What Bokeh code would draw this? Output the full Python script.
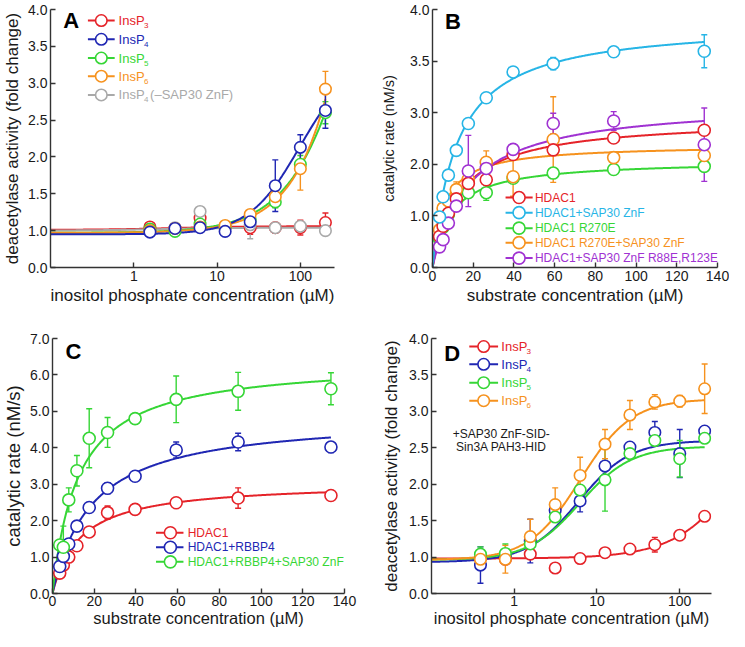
import numpy as np
from bokeh.plotting import figure
from bokeh.layouts import row, column
from bokeh.models import FixedTicker, PrintfTickFormatter, Range1d
from bokeh.core.properties import value
from bokeh.embed import file_html
from bokeh.resources import INLINE

FONT = "Liberation Sans"
INK = "#1a1a1a"
AXIS = "#333333"
RED = "#e52329"
BLUE = "#2027b3"
GREEN = "#36d636"
ORANGE = "#f6921e"
GRAY = "#a9a9a9"
CYAN = "#27b5e6"
PURPLE = "#a032d2"

# ---------------- Panel A : deacetylase activity vs InsP concentration
conc_A = [1.5625, 3.125, 6.25, 12.5, 25, 50, 100, 200]
A_insp3 = [1.05, 1.03, 1.17, 1.05, 1.04, 1.04, 1.04, 1.11]
A_insp3_err = [0.03, 0.03, 0.04, 0.03, 0.09, 0.07, 0.10, 0.13]
A_insp4 = [0.98, 1.03, 1.04, 0.99, 1.12, 1.61, 2.13, 2.63]
A_insp4_err = [0.03, 0.03, 0.03, 0.04, 0.08, 0.35, 0.17, 0.24]
A_insp5 = [1.02, 0.99, 1.09, 1.05, 1.15, 1.39, 1.90, 2.60]
A_insp5_err = [0.03, 0.05, 0.04, 0.03, 0.06, 0.08, 0.12, 0.15]
A_insp6 = [1.00, 1.03, 1.05, 1.07, 1.22, 1.46, 1.84, 2.92]
A_insp6_err = [0.02, 0.02, 0.02, 0.03, 0.06, 0.12, 0.29, 0.24]
A_insp4_noznf = [1.00, 1.04, 1.26, 1.06, 1.08, 1.04, 1.06, 1.00]
A_insp4_noznf_err = [0.02, 0.02, 0.02, 0.03, 0.19, 0.05, 0.05, 0.02]
# Hill fit parameters: base, amplitude, EC50, n
A_fit_insp3 = [1.01, 0.05, 3.0, 1.0]
A_fit_insp4 = [0.95, 2.4, 100.0, 1.4]
A_fit_insp5 = [0.97, 8.6, 850.0, 1.0]
A_fit_insp6 = [0.97, 33.0, 3000.0, 1.05]
A_fit_noznf = [1.00, 0.04, 2.0, 1.0]

# ---------------- Panel B : catalytic rate vs substrate
conc_B = [3.47, 5.2, 7.8, 11.7, 17.6, 26.4, 39.6, 59.3, 89.0, 133.5]
B_hdac1 = [0.60, 0.80, 1.05, 1.33, 1.63, 1.70, 2.19, 2.28, 2.51, 2.66]
B_hdac1_err = [0.05, 0.05, 0.05, 0.06, 0.08, 0.25, 0.10, 0.10, 0.05, 0.10]
B_znf = [0.98, 1.37, 1.79, 2.27, 2.79, 3.29, 3.79, 3.95, 4.18, 4.19]
B_znf_err = [0.05, 0.05, 0.05, 0.05, 0.08, 0.08, 0.10, 0.12, 0.08, 0.32]
B_r270e = [0.55, 0.78, 1.03, 1.30, 1.45, 1.45, 1.73, 1.83, 1.90, 1.96]
B_r270e_err = [0.05, 0.05, 0.05, 0.05, 0.06, 0.15, 0.05, 0.05, 0.05, 0.06]
B_r270e_znf = [0.73, 1.15, 1.29, 1.51, 1.71, 2.04, 1.76, 2.48, 2.13, 2.17]
B_r270e_znf_err = [0.05, 0.05, 0.05, 0.15, 0.10, 0.22, 0.38, 0.83, 0.10, 0.12]
B_znf_mut = [0.40, 0.54, 0.86, 1.19, 1.87, 1.92, 2.29, 2.79, 2.84, 2.38]
B_znf_mut_err = [0.03, 0.03, 0.05, 0.05, 0.69, 0.10, 0.06, 0.20, 0.18, 0.71]
# Michaelis-Menten fit parameters: Vmax, Km
B_fit_hdac1 = [2.89, 13.4]
B_fit_znf = [4.76, 11.9]
B_fit_r270e = [2.08, 9.05]
B_fit_r270e_znf = [2.38, 5.8]
B_fit_znf_mut = [3.22, 17.9]
B_ytick_labels = ["0.0", "1.0", "2.0", "3.0", "3.5", "4.0"]

# ---------------- Panel C
conc_C = [3.47, 5.2, 7.8, 11.7, 17.6, 26.4, 39.6, 59.3, 89.0, 133.5]
C_hdac1 = [0.56, 0.78, 1.00, 1.31, 1.69, 2.22, 2.31, 2.49, 2.62, 2.69]
C_hdac1_err = [0.03, 0.03, 0.03, 0.05, 0.05, 0.18, 0.05, 0.05, 0.28, 0.05]
C_rbbp4 = [0.74, 1.02, 1.36, 1.85, 2.36, 2.89, 3.22, 3.94, 4.16, 4.02]
C_rbbp4_err = [0.03, 0.03, 0.05, 0.05, 0.05, 0.15, 0.05, 0.22, 0.24, 0.15]
C_rbbp4_znf = [1.33, 1.27, 2.57, 3.37, 4.26, 4.42, 4.80, 5.33, 5.55, 5.62]
C_rbbp4_znf_err = [0.05, 0.58, 0.33, 0.42, 0.81, 0.41, 0.05, 0.64, 0.52, 0.44]
C_fit_hdac1 = [3.06, 13.36]
C_fit_rbbp4 = [4.89, 18.9]
C_fit_rbbp4_znf = [6.39, 12.4]

# ---------------- Panel D
conc_D = [0.390625, 0.78125, 1.5625, 3.125, 6.25, 12.5, 25, 50, 100, 200]
D_insp3 = [0.98, 0.97, 1.04, 0.85, 0.98, 1.06, 1.11, 1.17, 1.30, 1.56]
D_insp3_err = [0.02, 0.02, 0.02, 0.02, 0.02, 0.02, 0.03, 0.10, 0.03, 0.03]
D_insp4 = [0.89, 1.00, 1.22, 1.64, 1.77, 2.25, 2.51, 2.71, 2.42, 2.73]
D_insp4_err = [0.25, 0.10, 0.30, 0.05, 0.15, 0.05, 0.05, 0.15, 0.33, 0.05]
D_insp5 = [1.04, 1.05, 1.18, 1.55, 1.92, 2.06, 2.42, 2.60, 2.35, 2.63]
D_insp5_err = [0.10, 0.13, 0.12, 0.05, 0.05, 0.43, 0.05, 0.07, 0.25, 0.05]
D_insp6 = [0.97, 0.97, 1.28, 1.72, 2.12, 2.55, 2.95, 3.13, 3.14, 3.31]
D_insp6_err = [0.05, 0.19, 0.24, 0.23, 0.25, 0.20, 0.20, 0.10, 0.08, 0.34]
D_fit_insp3 = [0.98, 3.48, 1000.0, 1.0]
D_fit_insp4 = [0.93, 1.67, 6.0, 1.4]
D_fit_insp5 = [0.96, 1.56, 6.2, 1.4]
D_fit_insp6 = [0.96, 2.21, 6.3, 1.4]

LOG_TICKS = [1, 10, 100]
LIN_XTICKS = [0, 20, 40, 60, 80, 100, 120, 140]
ACT_YTICKS = [0.5, 1.0, 1.5, 2.0, 2.5, 3.0, 3.5, 4.0]


def hill(x, base, amp, ec, n):
    x = np.asarray(x, dtype=float)
    return base + amp * x ** n / (ec ** n + x ** n)


def mm(s, vmax, km):
    s = np.asarray(s, dtype=float)
    return vmax * s / (km + s)


class Panel:
    """A figure plus helpers that place decorations by fraction of the plot frame.
    ref = (frame width, frame height) that the placement numbers refer to."""

    def __init__(self, width, height, borders, xr, yr, xlog, ref):
        L, R, T, B = borders
        self.xr, self.yr, self.xlog = xr, yr, xlog
        self.ref_w, self.ref_h = ref
        p = figure(width=width, height=height,
                   x_axis_type="log" if xlog else "linear",
                   x_range=Range1d(*xr), y_range=Range1d(*yr),
                   output_backend="svg", toolbar_location=None,
                   min_border_left=L, min_border_right=R,
                   min_border_top=T, min_border_bottom=B)
        p.outline_line_color = None
        p.xgrid.visible = False
        p.ygrid.visible = False
        p.background_fill_color = "white"
        p.border_fill_color = "white"
        for ax in (p.xaxis[0], p.yaxis[0]):
            ax.axis_line_color = AXIS
            ax.axis_line_width = 1.4
            ax.major_tick_line_color = AXIS
            ax.major_tick_line_width = 1.4
            ax.major_tick_in = 5
            ax.major_tick_out = 0
            ax.minor_tick_in = 0
            ax.minor_tick_out = 0
            ax.minor_tick_line_color = None
            ax.major_label_text_font = FONT
            ax.major_label_text_font_size = "14px"
            ax.major_label_text_color = INK
            ax.axis_label_text_font = FONT
            ax.axis_label_text_font_style = "normal"
            ax.axis_label_text_color = INK
            ax.axis_label_text_font_size = "17px"
            ax.major_label_standoff = 3
            ax.axis_label_standoff = 3
        self.p = p

    def at(self, px, py):
        fx = px / self.ref_w
        fy = py / self.ref_h
        x0, x1 = self.xr
        y0, y1 = self.yr
        if self.xlog:
            x = 10 ** (np.log10(x0) + (np.log10(x1) - np.log10(x0)) * fx)
        else:
            x = x0 + (x1 - x0) * fx
        y = y0 + (y1 - y0) * fy
        return float(x), float(y)

    def text(self, px, py, s, color=INK, size="13px", align="left",
             baseline="middle", style="normal", dx=0, dy=0):
        x, y = self.at(px, py)
        self.p.text(x=[x], y=[y], text=[s], text_font=value(FONT),
                    text_font_size=value(size), text_color=color,
                    text_align=align, text_baseline=baseline,
                    text_font_style=style, x_offset=dx, y_offset=dy)

    def legend_entry(self, px0, px1, pxc, pxt, py, color, msize, label,
                     size="13px", sub=None, tail=None, sub_dx=25.3, tail_dx=31.5):
        xa, y = self.at(px0, py)
        xb, _ = self.at(px1, py)
        xc, _ = self.at(pxc, py)
        self.p.line(x=[xa, xb], y=[y, y], line_color=color, line_width=2)
        self.p.scatter(x=[xc], y=[y], marker="circle", size=msize,
                       fill_color="white", line_color=color, line_width=1.6)
        self.text(pxt, py, label, color=color, size=size)
        if sub is not None:
            self.text(pxt, py, sub, color=color, size="8px", dx=sub_dx, dy=5)
        if tail is not None:
            self.text(pxt, py, tail, color=color, size=size, dx=tail_dx)


def draw_fit(p, xs, ys, color):
    p.line(x=list(xs), y=list(ys), line_color=color, line_width=2)


def draw_err(p, x, y, err, color):
    lo = [a - b for a, b in zip(y, err)]
    hi = [a + b for a, b in zip(y, err)]
    p.segment(x0=list(x), y0=lo, x1=list(x), y1=hi, line_color=color, line_width=1.4)
    p.scatter(x=list(x) + list(x), y=lo + hi, marker="dash", size=6,
              line_color=color, line_width=1.4)


def draw_pts(p, x, y, color, size):
    p.scatter(x=list(x), y=list(y), marker="circle", size=size,
              fill_color="white", line_color=color, line_width=1.6)


MS_LOG = 11.5   # marker size, panels A and D
MS_LIN = 12     # marker size, panels B and C

# ================= Panel A
PA = Panel(372, 310, (50, 38, 9, 42), (0.1, 257), (0.5, 4.0), True, (290.7, 265.7))
pA = PA.p
xsA = np.logspace(-1, np.log10(200), 300)
seriesA = [(A_insp3, A_insp3_err, A_fit_insp3, RED),
           (A_insp4_noznf, A_insp4_noznf_err, A_fit_noznf, GRAY),
           (A_insp5, A_insp5_err, A_fit_insp5, GREEN),
           (A_insp6, A_insp6_err, A_fit_insp6, ORANGE),
           (A_insp4, A_insp4_err, A_fit_insp4, BLUE)]
for ys, es, fit, c in seriesA:
    draw_fit(pA, xsA, hill(xsA, *fit), c)
for ys, es, fit, c in seriesA:
    draw_err(pA, conc_A, ys, es, c)
for ys, es, fit, c in seriesA:
    draw_pts(pA, conc_A, ys, c, MS_LOG)
pA.xaxis[0].ticker = FixedTicker(ticks=LOG_TICKS, minor_ticks=[])
pA.xaxis[0].formatter = PrintfTickFormatter(format="%d")
pA.yaxis[0].ticker = FixedTicker(ticks=ACT_YTICKS, minor_ticks=[])
pA.yaxis[0].formatter = PrintfTickFormatter(format="%.1f")
pA.yaxis[0].major_label_overrides = {0.5: "0.0"}
pA.xaxis[0].axis_label = "inositol phosphate concentration (µM)"
pA.yaxis[0].axis_label = "deacetylase activity (fold change)"
pA.xaxis[0].axis_label_standoff = 2
PA.text(13, 254, "A", size="22px", baseline="alphabetic", style="bold", color="#000000")
rowsA = [254.3, 235.0, 215.7, 197.0, 177.7]
for r, c, s in zip(rowsA[:4], [RED, BLUE, GREEN, ORANGE], ["3", "4", "5", "6"]):
    PA.legend_entry(38.3, 65.7, 52, 69.7, r, c, MS_LOG, "InsP", sub=s)
PA.legend_entry(38.3, 65.7, 52, 69.7, rowsA[4], GRAY, MS_LOG, "InsP", sub="4",
                tail="(–SAP30 ZnF)")

# ================= Panel B
PB = Panel(357, 310, (60, 12, 8, 43), (0, 140), (0, 5), False, (291.4, 266.7))
pB = PB.p
xsB = np.linspace(0, 133.5, 300)
seriesB = [(B_r270e, B_r270e_err, B_fit_r270e, GREEN),
           (B_r270e_znf, B_r270e_znf_err, B_fit_r270e_znf, ORANGE),
           (B_hdac1, B_hdac1_err, B_fit_hdac1, RED),
           (B_znf_mut, B_znf_mut_err, B_fit_znf_mut, PURPLE),
           (B_znf, B_znf_err, B_fit_znf, CYAN)]
for ys, es, fit, c in seriesB:
    draw_fit(pB, xsB, mm(xsB, *fit), c)
for ys, es, fit, c in seriesB:
    draw_err(pB, conc_B, ys, es, c)
for ys, es, fit, c in seriesB:
    draw_pts(pB, conc_B, ys, c, MS_LIN)
pB.xaxis[0].ticker = FixedTicker(ticks=LIN_XTICKS, minor_ticks=[])
pB.xaxis[0].formatter = PrintfTickFormatter(format="%d")
pB.yaxis[0].ticker = FixedTicker(ticks=[0, 1, 2, 3, 4, 5], minor_ticks=[])
pB.yaxis[0].formatter = PrintfTickFormatter(format="%.1f")
pB.yaxis[0].major_label_overrides = {i: s for i, s in enumerate(B_ytick_labels)}
pB.xaxis[0].axis_label = "substrate concentration (µM)"
pB.yaxis[0].axis_label = "catalytic rate (nM/s)"
pB.yaxis[0].axis_label_text_font_size = "14.5px"
pB.yaxis[0].axis_label_standoff = 10
pB.xaxis[0].axis_label_standoff = 2
PB.text(12.7, 254, "B", size="22px", baseline="alphabetic", style="bold", color="#000000")
rowsB = [72.3, 56.7, 40.7, 25.7, 9.7]
labelsB = ["HDAC1", "HDAC1+SAP30 ZnF", "HDAC1 R270E", "HDAC1 R270E+SAP30 ZnF",
           "HDAC1+SAP30 ZnF R88E,R123E"]
for r, c, lab in zip(rowsB, [RED, CYAN, GREEN, ORANGE, PURPLE], labelsB):
    PB.legend_entry(74.7, 102.4, 88.5, 104.7, r, c, MS_LIN, lab, size="12px")

# ================= Panel C
PC = Panel(372, 321, (49, 28, 28, 38), (0, 140), (0, 7), False, (301.0, 262.6))
pC = PC.p
xsC = np.linspace(0, 133.5, 300)
seriesC = [(C_hdac1, C_hdac1_err, C_fit_hdac1, RED),
           (C_rbbp4, C_rbbp4_err, C_fit_rbbp4, BLUE),
           (C_rbbp4_znf, C_rbbp4_znf_err, C_fit_rbbp4_znf, GREEN)]
for ys, es, fit, c in seriesC:
    draw_fit(pC, xsC, mm(xsC, *fit), c)
for ys, es, fit, c in seriesC:
    draw_err(pC, conc_C, ys, es, c)
for ys, es, fit, c in seriesC:
    draw_pts(pC, conc_C, ys, c, MS_LIN)
pC.xaxis[0].ticker = FixedTicker(ticks=LIN_XTICKS, minor_ticks=[])
pC.xaxis[0].formatter = PrintfTickFormatter(format="%d")
pC.yaxis[0].ticker = FixedTicker(ticks=[0, 1, 2, 3, 4, 5, 6, 7], minor_ticks=[])
pC.yaxis[0].formatter = PrintfTickFormatter(format="%.1f")
pC.xaxis[0].axis_label = "substrate concentration (µM)"
pC.yaxis[0].axis_label = "catalytic rate (nM/s)"
pC.yaxis[0].axis_label_text_font_size = "18.5px"
pC.yaxis[0].axis_label_standoff = 3
pC.xaxis[0].axis_label_text_font_size = "16.5px"
pC.xaxis[0].major_label_standoff = 2
pC.xaxis[0].axis_label_standoff = 0
PC.text(13.3, 249.3, "C", size="22px", baseline="alphabetic", style="bold", color="#000000")
rowsC = [62.6, 47.6, 32.6]
for r, c, lab in zip(rowsC, [RED, BLUE, GREEN],
                     ["HDAC1", "HDAC1+RBBP4", "HDAC1+RBBP4+SAP30 ZnF"]):
    PC.legend_entry(106.7, 135, 121.5, 139.3, r, c, MS_LIN, lab, size="12px")

# ================= Panel D
PD = Panel(357, 321, (59, 18, 26, 38), (0.1, 242), (0.5, 4.0), True, (286.0, 263.7))
pD = PD.p
xsD = np.logspace(-1, np.log10(200), 300)
seriesD = [(D_insp3, D_insp3_err, D_fit_insp3, RED),
           (D_insp4, D_insp4_err, D_fit_insp4, BLUE),
           (D_insp5, D_insp5_err, D_fit_insp5, GREEN),
           (D_insp6, D_insp6_err, D_fit_insp6, ORANGE)]
for ys, es, fit, c in seriesD:
    draw_fit(pD, xsD, hill(xsD, *fit), c)
for ys, es, fit, c in seriesD:
    draw_err(pD, conc_D, ys, es, c)
for ys, es, fit, c in seriesD:
    draw_pts(pD, conc_D, ys, c, MS_LOG)
pD.xaxis[0].ticker = FixedTicker(ticks=LOG_TICKS, minor_ticks=[])
pD.xaxis[0].formatter = PrintfTickFormatter(format="%d")
pD.yaxis[0].ticker = FixedTicker(ticks=ACT_YTICKS, minor_ticks=[])
pD.yaxis[0].formatter = PrintfTickFormatter(format="%.1f")
pD.yaxis[0].major_label_overrides = {0.5: "0.0"}
pD.xaxis[0].axis_label = "inositol phosphate concentration (µM)"
pD.yaxis[0].axis_label = "deacetylase activity (fold change)"
pD.yaxis[0].axis_label_standoff = 5
pD.xaxis[0].axis_label_text_font_size = "16.5px"
pD.xaxis[0].major_label_standoff = 2
pD.xaxis[0].axis_label_standoff = 0
PD.text(13, 248.7, "D", size="22px", baseline="alphabetic", style="bold", color="#000000")
rowsD = [255.4, 237.0, 218.0, 199.4]
for r, c, s in zip(rowsD, [RED, BLUE, GREEN, ORANGE], ["3", "4", "5", "6"]):
    PD.legend_entry(38.6, 68, 53.3, 71.3, r, c, MS_LOG, "InsP", sub=s)
PD.text(71.3, 164.7, "+SAP30 ZnF-SID-", size="12px", align="center")
PD.text(71.3, 151.4, "Sin3A PAH3-HID", size="12px", align="center")

layout = column(row(pA, pB), row(pC, pD))

with open("out.html", "w") as f:
    f.write(file_html(layout, INLINE))
